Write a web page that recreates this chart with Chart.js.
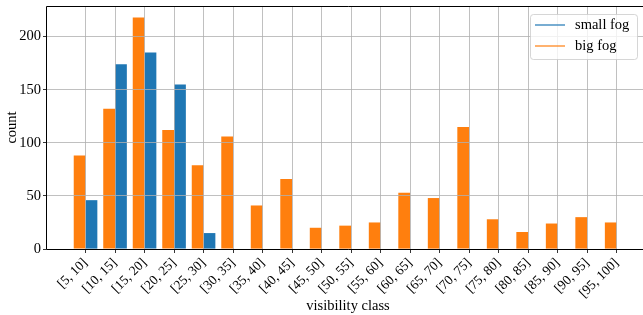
<!DOCTYPE html>
<html>
<head>
<meta charset="utf-8">
<script src="https://cdn.jsdelivr.net/npm/chart.js@4"></script>
<style>
  html, body { margin: 0; padding: 0; background: #fff; overflow: hidden; }
  #wrap { position: relative; width: 643px; height: 315px; overflow: hidden; }
  #fogChart { display: block; width: 650px; height: 315px; }
</style>
</head>
<body>
<div id="wrap"><canvas id="fogChart" width="650" height="315"></canvas></div>
<script>
// visibility classes and counts per class
const classes = ["[5, 10]", "[10, 15]", "[15, 20]", "[20, 25]", "[25, 30]", "[30, 35]", "[35, 40]",
  "[40, 45]", "[45, 50]", "[50, 55]", "[55, 60]", "[60, 65]", "[65, 70]", "[70, 75]",
  "[75, 80]", "[80, 85]", "[85, 90]", "[90, 95]", "[95, 100]"];
const smallFog = [46, 174, 185, 155, 15, 0, 0, 0, 0, 0, 0, 0, 0, 0, 0, 0, 0, 0, 0];
const bigFog = [88, 132, 218, 112, 79, 106, 41, 66, 20, 22, 25, 53, 48, 115, 28, 16, 24, 30, 25];
const yTicks = [0, 50, 100, 150, 200];

const BLUE = "#1f77b4";
const ORANGE = "#ff7f0e";
const FONT = "'Liberation Serif', 'Times New Roman', serif";
const FS = 14.5;
const VIEW_W = 643;

const toPoints = (arr) => arr.map((v, i) => ({ x: i, y: v }));

// left/bottom/top spines + legend box inside the plot (matplotlib style)
// the plot runs a few px past the visible window, like the cropped original
const frameAndLegend = {
  id: "frameAndLegend",
  afterDraw(chart) {
    const { ctx, chartArea: a } = chart;
    ctx.save();
    ctx.strokeStyle = "#000";
    ctx.lineWidth = 1;
    ctx.beginPath();
    ctx.moveTo(a.right, a.top + 0.5);
    ctx.lineTo(a.left + 0.5, a.top + 0.5);
    ctx.lineTo(a.left + 0.5, a.bottom + 0.5);
    ctx.lineTo(a.right, a.bottom + 0.5);
    ctx.stroke();

    const items = [
      { text: "small fog", color: BLUE },
      { text: "big fog", color: ORANGE },
    ];
    const w = 107, h = 45;
    const x = VIEW_W - 6 - w, y = a.top + 8;
    ctx.globalAlpha = 0.8;
    ctx.fillStyle = "#fff";
    ctx.strokeStyle = "#cccccc";
    ctx.beginPath();
    ctx.roundRect(x + 0.5, y + 0.5, w, h, 3);
    ctx.fill();
    ctx.stroke();
    ctx.globalAlpha = 1;
    ctx.font = FS + "px " + FONT;
    ctx.textBaseline = "middle";
    ctx.fillStyle = "#000";
    items.forEach((it, i) => {
      const cy = y + 11 + i * 21;
      ctx.strokeStyle = it.color;
      ctx.lineWidth = 1.2;
      ctx.beginPath();
      ctx.moveTo(x + 5, cy);
      ctx.lineTo(x + 35, cy);
      ctx.stroke();
      ctx.fillText(it.text, x + 45, cy);
    });
    ctx.restore();
  },
};

new Chart(document.getElementById("fogChart"), {
  type: "bar",
  data: {
    datasets: [
      { label: "big fog", data: toPoints(bigFog), backgroundColor: ORANGE },
      { label: "small fog", data: toPoints(smallFog), backgroundColor: BLUE },
    ],
  },
  options: {
    responsive: false,
    animation: false,
    layout: { padding: { top: 6, right: 0, bottom: 0, left: 0 } },
    datasets: { bar: { categoryPercentage: 0.8, barPercentage: 1.0, borderWidth: 0 } },
    plugins: { legend: { display: false }, tooltip: { enabled: false } },
    scales: {
      x: {
        type: "linear",
        offset: false,
        min: -1.34,
        max: 19.13,
        afterBuildTicks: (axis) => { axis.ticks = classes.map((_, i) => ({ value: i })); },
        afterFit: (scale) => {
          scale.height = 66;
          scale.paddingLeft = 0;
          scale.paddingRight = 0;
        },
        grid: { z: 1, offset: false, color: "#b0b0b0", lineWidth: 0.8, tickColor: "#000", tickLength: 4 },
        border: { display: false },
        ticks: {
          minRotation: 45, maxRotation: 45, autoSkip: false, padding: 2,
          color: "#000", font: { family: FONT, size: 13.5 },
          callback: (v) => classes[v] ?? "",
        },
        title: { display: true, text: "visibility class", color: "#000",
          font: { family: FONT, size: FS }, padding: { top: 0, bottom: 0 } },
      },
      y: {
        min: 0,
        max: 228.9,
        afterBuildTicks: (axis) => { axis.ticks = yTicks.map((v) => ({ value: v })); },
        afterFit: (scale) => {
          scale.width = 46;
          scale.paddingTop = 0;
          scale.paddingBottom = 0;
        },
        grid: { z: 1, color: "#b0b0b0", lineWidth: 0.8, tickColor: "#000", tickLength: 3 },
        border: { display: false },
        ticks: { padding: 2, color: "#000", font: { family: FONT, size: FS } },
        title: { display: true, text: "count", color: "#000",
          font: { family: FONT, size: FS }, padding: { top: 3, bottom: 0 } },
      },
    },
  },
  plugins: [frameAndLegend],
});
</script>
</body>
</html>
